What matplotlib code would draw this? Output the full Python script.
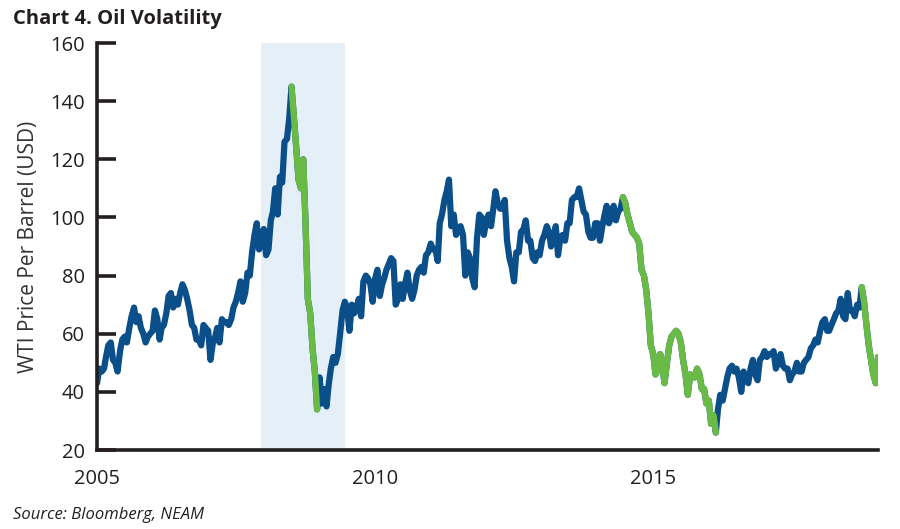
import numpy as np
import pandas as pd
import matplotlib
matplotlib.use('Agg')
import matplotlib.pyplot as plt

# prix WTI, deux points par mois (1er et 16)
prix_2005 = [43, 48, 47, 48, 52, 56, 57, 51, 50, 47, 54, 58, 59, 57, 62, 66, 69, 64, 66, 62, 60, 57, 59, 60]
prix_2006 = [61, 68, 65, 58, 62, 63, 67, 73, 74, 69, 72, 70, 74, 77, 75, 72, 68, 63, 62, 58, 58, 56, 63, 62]
prix_2007 = [61, 51, 57, 59, 62, 57, 65, 64, 64, 63, 65, 69, 71, 74, 78, 71, 74, 81, 80, 88, 94, 98, 89, 92]
prix_2008 = [96, 87, 89, 99, 102, 110, 101, 114, 112, 126, 127, 134, 145, 135, 124, 113, 110, 120, 98, 72, 67, 55, 47, 34]
prix_2009 = [45, 36, 41, 35, 42, 48, 52, 50, 53, 60, 68, 71, 69, 61, 70, 67, 69, 72, 66, 78, 80, 79, 77, 71]
prix_2010 = [79, 82, 73, 77, 79, 82, 84, 86, 85, 70, 72, 77, 72, 77, 81, 75, 72, 75, 80, 82, 83, 81, 87, 88]
prix_2011 = [91, 89, 89, 85, 98, 101, 106, 109, 113, 97, 101, 94, 95, 97, 94, 80, 88, 86, 79, 76, 93, 101, 100, 94]
prix_2012 = [99, 101, 97, 103, 109, 105, 103, 103, 106, 92, 86, 83, 78, 88, 88, 95, 96, 99, 92, 92, 86, 85, 88, 87]
prix_2013 = [92, 94, 97, 95, 90, 93, 97, 87, 93, 94, 92, 98, 98, 106, 107, 107, 110, 106, 102, 101, 95, 93, 93, 98]
prix_2014 = [98, 92, 97, 101, 104, 98, 100, 104, 99, 102, 103, 107, 105, 101, 98, 95, 94, 93, 91, 82, 80, 75, 67, 56]
prix_2015 = [53, 46, 48, 53, 49, 43, 50, 56, 59, 60, 61, 60, 57, 51, 46, 39, 46, 45, 45, 48, 46, 41, 41, 36]
prix_2016 = [37, 29, 32, 26, 34, 39, 37, 41, 45, 48, 49, 47, 48, 45, 40, 47, 44, 43, 48, 51, 46, 44, 51, 52]
prix_2017 = [54, 52, 53, 53, 54, 48, 50, 53, 49, 48, 48, 44, 46, 47, 50, 47, 47, 50, 51, 52, 55, 56, 58, 57]
prix_2018 = [61, 64, 65, 61, 61, 63, 65, 67, 68, 72, 66, 65, 74, 68, 68, 66, 70, 69, 76, 71, 63, 56, 51, 46]
prix_2019 = [43, 52]

# periodes de baisse (en vert) et recession (zone ombree)
baisses = [('2008-07-01', '2008-12-16'), ('2014-06-16', '2016-02-16'), ('2018-10-01', '2019-01-16')]
recession = ('2007-12-15', '2009-06-20')

prix = (prix_2005 + prix_2006 + prix_2007 + prix_2008 + prix_2009 + prix_2010 + prix_2011
        + prix_2012 + prix_2013 + prix_2014 + prix_2015 + prix_2016 + prix_2017 + prix_2018 + prix_2019)
mois = pd.date_range('2005-01-01', periods=len(prix) // 2, freq='MS')
dates = []
for m in mois:
    dates.append(m)
    dates.append(m + pd.Timedelta(days=15))
serie = pd.Series(prix, index=pd.DatetimeIndex(dates))

bleu = '#0b4f8a'
vert = '#6abb45'
noir = '#231f20'

plt.rcParams['font.family'] = ['Open Sans', 'DejaVu Sans']

fig = plt.figure(figsize=(9, 5.29), dpi=100)
ax = fig.add_axes([0.1078, 0.1493, 0.8678, 0.7694])

ax.axvspan(pd.Timestamp(recession[0]), pd.Timestamp(recession[1]), color='#e5eff8', lw=0, zorder=0)
ax.plot(serie.index, serie.values, color=bleu, lw=4.5, solid_joinstyle='round', solid_capstyle='round', zorder=2)
for debut, fin in baisses:
    seg = serie[debut:fin]
    ax.plot(seg.index, seg.values, color=vert, lw=4.5, solid_joinstyle='round', solid_capstyle='round', zorder=3)

ax.set_ylim(20, 160)
ax.set_yticks(np.arange(20, 161, 20))
ax.set_xlim(pd.Timestamp('2005-01-01'), serie.index[-1])
ax.set_xticks([pd.Timestamp('2005-01-01'), pd.Timestamp('2010-01-01'), pd.Timestamp('2015-01-01')])
ax.set_xticklabels(['2005', '2010', '2015'])

for s in ['top', 'right']:
    ax.spines[s].set_visible(False)
for s in ['left', 'bottom']:
    ax.spines[s].set_linewidth(2.6)
    ax.spines[s].set_color(noir)
    ax.spines[s].set_capstyle('projecting')

ax.tick_params(axis='y', direction='in', length=14, width=2.6, color=noir, labelsize=14.5, labelcolor=noir, pad=9)
ax.tick_params(axis='x', length=0, labelsize=14.5, labelcolor=noir, pad=14)
ax.set_ylabel('WTI Price Per Barrel (USD)', fontsize=15, color='#333333', labelpad=8)

fig.text(0.014, 0.965, 'Chart 4. Oil Volatility', fontsize=14.5, fontweight='bold', color=noir, va='center')
fig.text(0.014, 0.026, 'Source: Bloomberg, NEAM', fontsize=12, style='italic', color=noir, va='center')

fig.savefig('out.png', dpi=100)
